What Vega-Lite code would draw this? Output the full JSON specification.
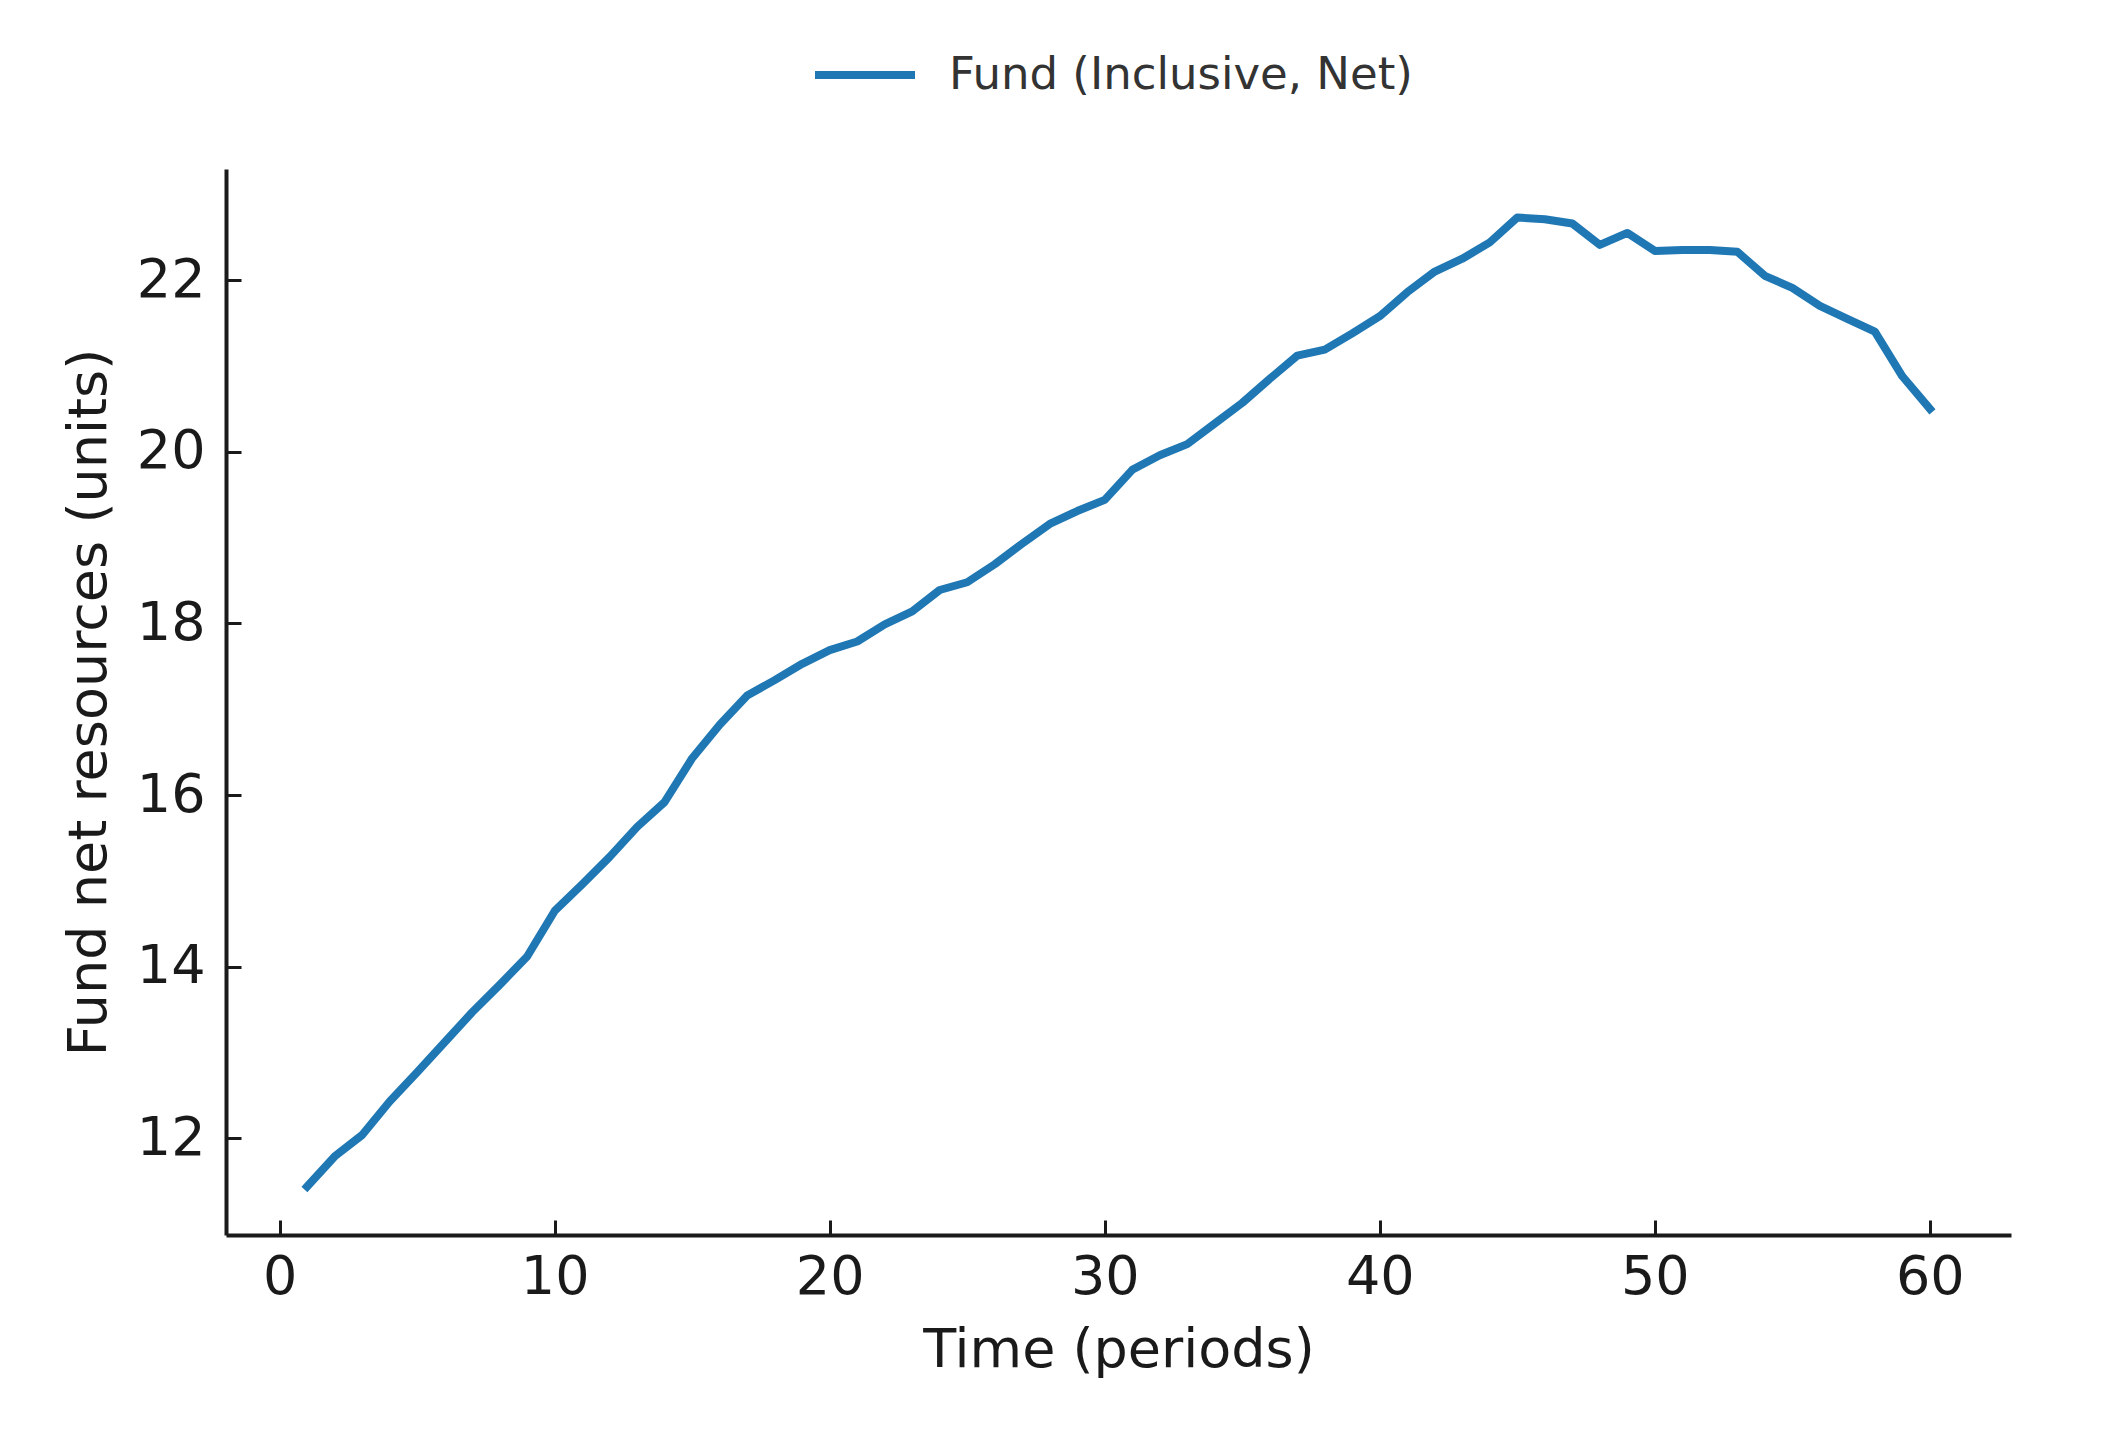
{
  "$schema": "https://vega.github.io/schema/vega-lite/v6.json",
  "width": 1785,
  "height": 1066,
  "autosize": {"type": "none"},
  "padding": {"left": 226, "top": 169, "right": 107, "bottom": 196},
  "background": "white",
  "data": {"values": [
    {"t": 1, "v": 11.44, "series": "Fund (Inclusive, Net)"},
    {"t": 2, "v": 11.79, "series": "Fund (Inclusive, Net)"},
    {"t": 3, "v": 12.04, "series": "Fund (Inclusive, Net)"},
    {"t": 4, "v": 12.43, "series": "Fund (Inclusive, Net)"},
    {"t": 5, "v": 12.77, "series": "Fund (Inclusive, Net)"},
    {"t": 6, "v": 13.12, "series": "Fund (Inclusive, Net)"},
    {"t": 7, "v": 13.47, "series": "Fund (Inclusive, Net)"},
    {"t": 8, "v": 13.79, "series": "Fund (Inclusive, Net)"},
    {"t": 9, "v": 14.12, "series": "Fund (Inclusive, Net)"},
    {"t": 10, "v": 14.65, "series": "Fund (Inclusive, Net)"},
    {"t": 11, "v": 14.96, "series": "Fund (Inclusive, Net)"},
    {"t": 12, "v": 15.28, "series": "Fund (Inclusive, Net)"},
    {"t": 13, "v": 15.63, "series": "Fund (Inclusive, Net)"},
    {"t": 14, "v": 15.92, "series": "Fund (Inclusive, Net)"},
    {"t": 15, "v": 16.43, "series": "Fund (Inclusive, Net)"},
    {"t": 16, "v": 16.82, "series": "Fund (Inclusive, Net)"},
    {"t": 17, "v": 17.16, "series": "Fund (Inclusive, Net)"},
    {"t": 18, "v": 17.34, "series": "Fund (Inclusive, Net)"},
    {"t": 19, "v": 17.53, "series": "Fund (Inclusive, Net)"},
    {"t": 20, "v": 17.69, "series": "Fund (Inclusive, Net)"},
    {"t": 21, "v": 17.79, "series": "Fund (Inclusive, Net)"},
    {"t": 22, "v": 17.99, "series": "Fund (Inclusive, Net)"},
    {"t": 23, "v": 18.14, "series": "Fund (Inclusive, Net)"},
    {"t": 24, "v": 18.39, "series": "Fund (Inclusive, Net)"},
    {"t": 25, "v": 18.48, "series": "Fund (Inclusive, Net)"},
    {"t": 26, "v": 18.69, "series": "Fund (Inclusive, Net)"},
    {"t": 27, "v": 18.93, "series": "Fund (Inclusive, Net)"},
    {"t": 28, "v": 19.16, "series": "Fund (Inclusive, Net)"},
    {"t": 29, "v": 19.31, "series": "Fund (Inclusive, Net)"},
    {"t": 30, "v": 19.44, "series": "Fund (Inclusive, Net)"},
    {"t": 31, "v": 19.79, "series": "Fund (Inclusive, Net)"},
    {"t": 32, "v": 19.96, "series": "Fund (Inclusive, Net)"},
    {"t": 33, "v": 20.09, "series": "Fund (Inclusive, Net)"},
    {"t": 34, "v": 20.33, "series": "Fund (Inclusive, Net)"},
    {"t": 35, "v": 20.57, "series": "Fund (Inclusive, Net)"},
    {"t": 36, "v": 20.85, "series": "Fund (Inclusive, Net)"},
    {"t": 37, "v": 21.12, "series": "Fund (Inclusive, Net)"},
    {"t": 38, "v": 21.19, "series": "Fund (Inclusive, Net)"},
    {"t": 39, "v": 21.38, "series": "Fund (Inclusive, Net)"},
    {"t": 40, "v": 21.58, "series": "Fund (Inclusive, Net)"},
    {"t": 41, "v": 21.86, "series": "Fund (Inclusive, Net)"},
    {"t": 42, "v": 22.10, "series": "Fund (Inclusive, Net)"},
    {"t": 43, "v": 22.25, "series": "Fund (Inclusive, Net)"},
    {"t": 44, "v": 22.44, "series": "Fund (Inclusive, Net)"},
    {"t": 45, "v": 22.73, "series": "Fund (Inclusive, Net)"},
    {"t": 46, "v": 22.71, "series": "Fund (Inclusive, Net)"},
    {"t": 47, "v": 22.66, "series": "Fund (Inclusive, Net)"},
    {"t": 48, "v": 22.41, "series": "Fund (Inclusive, Net)"},
    {"t": 49, "v": 22.55, "series": "Fund (Inclusive, Net)"},
    {"t": 50, "v": 22.34, "series": "Fund (Inclusive, Net)"},
    {"t": 51, "v": 22.35, "series": "Fund (Inclusive, Net)"},
    {"t": 52, "v": 22.35, "series": "Fund (Inclusive, Net)"},
    {"t": 53, "v": 22.33, "series": "Fund (Inclusive, Net)"},
    {"t": 54, "v": 22.05, "series": "Fund (Inclusive, Net)"},
    {"t": 55, "v": 21.91, "series": "Fund (Inclusive, Net)"},
    {"t": 56, "v": 21.70, "series": "Fund (Inclusive, Net)"},
    {"t": 57, "v": 21.55, "series": "Fund (Inclusive, Net)"},
    {"t": 58, "v": 21.40, "series": "Fund (Inclusive, Net)"},
    {"t": 59, "v": 20.88, "series": "Fund (Inclusive, Net)"},
    {"t": 60, "v": 20.50, "series": "Fund (Inclusive, Net)"}
  ]},
  "mark": {"type": "line", "strokeWidth": 8, "strokeCap": "square", "strokeJoin": "round"},
  "encoding": {
    "x": {
      "field": "t", "type": "quantitative",
      "scale": {"domain": [-1.95, 62.95], "nice": false, "zero": false},
      "axis": {
        "title": "Time (periods)",
        "values": [0, 10, 20, 30, 40, 50, 60],
        "format": "d",
        "grid": false,
        "tickSize": -15,
        "labelPadding": 30,
        "titleY": 131,
        "titleBaseline": "alphabetic"
      }
    },
    "y": {
      "field": "v", "type": "quantitative",
      "scale": {"domain": [10.875, 23.295], "nice": false, "zero": false},
      "axis": {
        "title": "Fund net resources (units)",
        "values": [12, 14, 16, 18, 20, 22],
        "format": "d",
        "grid": false,
        "tickSize": -15,
        "labelPadding": 36,
        "titleX": -121,
        "titleY": 533,
        "titleAngle": -90,
        "titleAlign": "center",
        "titleBaseline": "alphabetic"
      }
    },
    "color": {
      "field": "series", "type": "nominal",
      "scale": {"range": ["#1f77b4"]},
      "legend": {
        "title": null,
        "orient": "none",
        "legendX": 585,
        "legendY": -117,
        "symbolType": "stroke",
        "symbolSize": 10000,
        "symbolStrokeWidth": 8,
        "clipHeight": 46,
        "labelOffset": 30,
        "labelFontSize": 45,
        "labelLimit": 1000,
        "labelFont": "DejaVu Sans",
        "labelColor": "#333333",
        "padding": 0
      }
    }
  },
  "config": {
    "view": {"stroke": null},
    "axis": {
      "labelFont": "DejaVu Sans",
      "titleFont": "DejaVu Sans",
      "labelFontSize": 54,
      "titleFontSize": 54,
      "titleFontWeight": "normal",
      "labelColor": "#1a1a1a",
      "titleColor": "#1a1a1a",
      "domainColor": "#1a1a1a",
      "domainWidth": 4,
      "tickColor": "#1a1a1a",
      "tickWidth": 3
    }
  }
}
